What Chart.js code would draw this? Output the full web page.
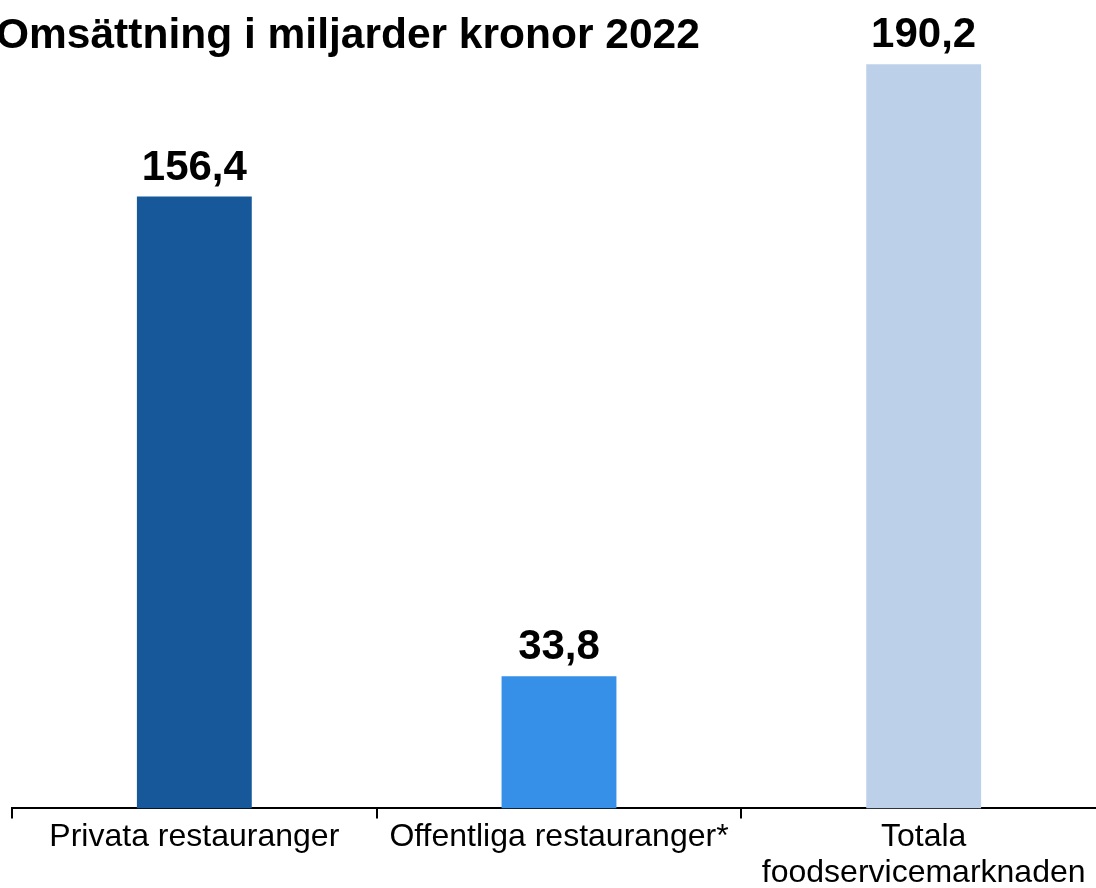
<!DOCTYPE html>
<html>
<head>
<meta charset="utf-8">
<script src="https://cdn.jsdelivr.net/npm/chart.js@4/dist/chart.umd.min.js"></script>
<style>
  html, body { margin: 0; padding: 0; background: #fff; overflow: hidden; }
  #wrap { width: 1096px; height: 888px; overflow: hidden; }
</style>
</head>
<body>
<div id="wrap">
  <canvas id="myChart" width="1120" height="892"></canvas>
</div>
<script>
var kategorier = ['Privata restauranger', 'Offentliga restauranger*', ['Totala', 'foodservicemarknaden']];
var omsattning = [156.4, 33.8, 190.2];
var etiketter = ['156,4', '33,8', '190,2'];
var farger = ['#16589A', '#3790E8', '#BDD0E9'];
var rubrik = 'Omsättning i miljarder kronor 2022';

var typsnitt = '"Liberation Sans", Arial, Helvetica, sans-serif';

// rubrik + värden ovanför staplarna
var textPlugin = {
  id: 'textPlugin',
  afterDraw: function (chart) {
    var ctx = chart.ctx;
    ctx.save();
    ctx.fillStyle = '#000';
    ctx.font = 'bold 42.5px ' + typsnitt;
    ctx.textAlign = 'left';
    ctx.textBaseline = 'alphabetic';
    ctx.fillText(rubrik, -4, 48);

    ctx.font = 'bold 42px ' + typsnitt;
    ctx.textAlign = 'center';
    var meta = chart.getDatasetMeta(0);
    meta.data.forEach(function (bar, i) {
      ctx.fillText(etiketter[i], bar.x, bar.y - 17);
    });
    ctx.restore();
  }
};

var ctx = document.getElementById('myChart').getContext('2d');

var myChart = new Chart(ctx, {
  type: 'bar',
  data: {
    labels: kategorier,
    datasets: [{
      label: 'Omsättning',
      data: omsattning,
      backgroundColor: farger,
      borderWidth: 0,
      categoryPercentage: 1,
      barPercentage: 0.315
    }]
  },
  options: {
    responsive: false,
    animation: false,
    layout: {
      padding: { left: 12, right: 14, top: 26, bottom: 0 }
    },
    plugins: {
      legend: { display: false },
      tooltip: { enabled: false },
      title: { display: false }
    },
    scales: {
      x: {
        offset: true,
        border: { display: true, color: '#000', width: 2 },
        grid: {
          offset: true,
          drawOnChartArea: false,
          drawTicks: true,
          tickLength: 10,
          color: '#000',
          lineWidth: 2
        },
        ticks: {
          color: '#000',
          padding: 0,
          maxRotation: 0,
          autoSkip: false,
          font: { family: typsnitt, size: 32, lineHeight: 1.15 }
        }
      },
      y: {
        display: false,
        min: 0,
        max: 200
      }
    }
  },
  plugins: [textPlugin]
});
</script>
</body>
</html>
